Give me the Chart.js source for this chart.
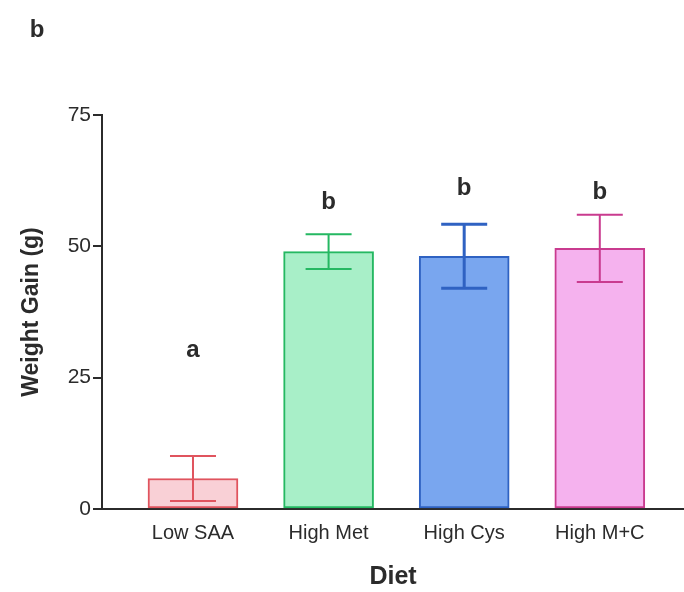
<!DOCTYPE html>
<html>
<head>
<meta charset="utf-8">
<script src="https://cdn.jsdelivr.net/npm/chart.js@4.4.0/dist/chart.umd.min.js"></script>
<style>
html,body{margin:0;padding:0;background:#fff;}
#wrap{position:relative;width:684px;height:592px;}
</style>
</head>
<body>
<div id="wrap"><canvas id="c" width="684" height="592"></canvas></div>
<script>
const categories = ["Low SAA", "High Met", "High Cys", "High M+C"];
const means = [5.8, 49.0, 48.1, 49.6];
const errors = [4.3, 3.3, 6.1, 6.4];
const letters = ["a", "b", "b", "b"];
const letterHeights = [30.2, 58.3, 61.0, 60.3];
const yTicks = [0, 25, 50, 75];
const fillColors = ["#f9d0d6", "#a8efc8", "#79a6ef", "#f5b2ee"];
const borderColors = ["#e0545e", "#25b862", "#2f62c2", "#c93b8f"];

const positions = categories.map((_, i) => i + 1);
const FONT = '"Liberation Sans", Arial, sans-serif';

const errorPlugin = {
  id: 'errs',
  afterDatasetsDraw(chart) {
    const ctx = chart.ctx, xs = chart.scales.x, ys = chart.scales.y;
    ctx.save();
    means.forEach((m, i) => {
      const x = xs.getPixelForValue(positions[i]);
      const yt = ys.getPixelForValue(m + errors[i]);
      const yb = ys.getPixelForValue(m - errors[i]);
      ctx.strokeStyle = borderColors[i];
      ctx.lineWidth = i === 2 ? 3 : 2;
      ctx.beginPath();
      ctx.moveTo(x, yt); ctx.lineTo(x, yb);
      ctx.moveTo(x - 23, yt); ctx.lineTo(x + 23, yt);
      ctx.moveTo(x - 23, yb); ctx.lineTo(x + 23, yb);
      ctx.stroke();
      ctx.fillStyle = '#2b2b2b';
      ctx.font = 'bold 24px ' + FONT;
      ctx.textAlign = 'center';
      ctx.textBaseline = 'middle';
      ctx.fillText(letters[i], x, ys.getPixelForValue(letterHeights[i]));
    });
    ctx.fillStyle = '#2b2b2b';
    ctx.font = 'bold 24px ' + FONT;
    ctx.textAlign = 'center';
    ctx.textBaseline = 'middle';
    ctx.fillText('b', 37, 30);
    ctx.restore();
  }
};

new Chart(document.getElementById('c'), {
  type: 'bar',
  data: {
    datasets: [{
      data: positions.map((p, i) => ({x: p, y: means[i]})),
      backgroundColor: fillColors,
      borderColor: borderColors,
      borderWidth: 2,
      borderSkipped: false,
      barThickness: 90
    }]
  },
  options: {
    responsive: false,
    animation: false,
    events: [],
    layout: {padding: {top: 115, right: 0, left: 0, bottom: 0}},
    plugins: {legend: {display: false}, tooltip: {enabled: false}},
    scales: {
      x: {
        type: 'linear',
        offset: false,
        min: 0.329,
        max: 4.621,
        afterBuildTicks(s) { s.ticks = positions.map(v => ({value: v})); },
        afterFit(s) { s.height = 83; },
        grid: {display: false, drawTicks: false, offset: false},
        border: {display: true, color: '#2b2b2b', width: 2},
        ticks: {
          callback: (v) => categories[v - 1] || '',
          color: '#2b2b2b',
          font: {size: 20, family: FONT},
          padding: 12,
          maxRotation: 0,
          autoSkip: false
        },
        title: {
          display: true,
          text: 'Diet',
          color: '#2b2b2b',
          font: {size: 25, weight: 'bold', family: FONT},
          padding: {top: 4, bottom: 0}
        }
      },
      y: {
        min: 0,
        max: 75,
        afterBuildTicks(s) { s.ticks = yTicks.map(v => ({value: v})); },
        afterFit(s) { s.width = 102; },
        grid: {drawOnChartArea: false, drawTicks: true, tickLength: 9, color: '#2b2b2b', lineWidth: 2},
        border: {display: true, color: '#2b2b2b', width: 2},
        ticks: {
          color: '#2b2b2b',
          font: {size: 21, family: FONT},
          padding: 2
        },
        title: {
          display: true,
          text: 'Weight Gain (g)',
          color: '#2b2b2b',
          font: {size: 23, weight: 'bold', family: FONT},
          padding: {top: 18, bottom: 6}
        }
      }
    }
  },
  plugins: [errorPlugin]
});
</script>
</body>
</html>
